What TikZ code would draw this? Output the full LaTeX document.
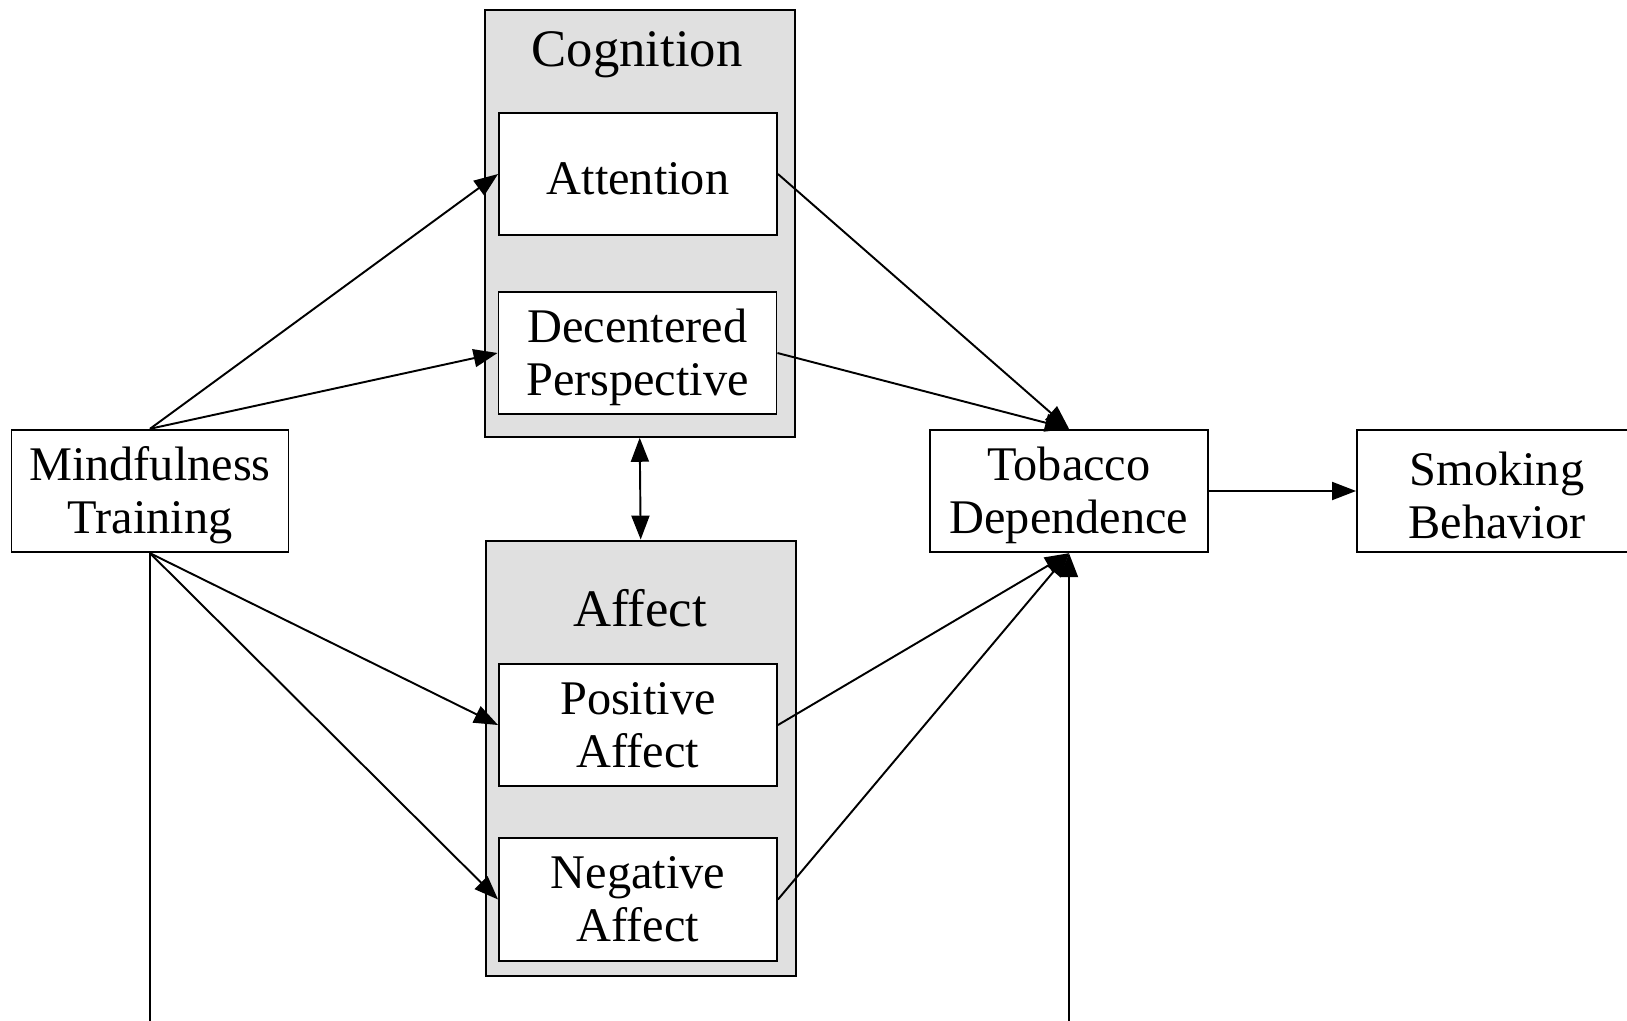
\documentclass[tikz,border=0pt]{standalone}
\usepackage{fontspec}
\setmainfont{Liberation Serif}
\usetikzlibrary{positioning, arrows.meta}
\newcommand{\lift}{\rule{0pt}{24pt}}

\begin{document}
\begin{tikzpicture}[
  x=0.02cm, y=-0.02cm,
  font=\fontsize{27.5}{30}\selectfont,
  var/.style={draw, line width=1.1pt, fill=white, align=center,
              minimum width=5.56cm, minimum height=2.45cm, inner sep=0pt},
  cluster/.style={draw, line width=1.1pt, fill=black!12,
                  minimum width=6.2cm, inner sep=0pt},
  title/.style={font=\fontsize{30}{32}\selectfont},
  arr/.style={-{Triangle[length=0.48cm, width=0.36cm]}, line width=1.1pt},
  darr/.style={{Triangle[length=0.48cm, width=0.36cm]}-{Triangle[length=0.48cm, width=0.36cm]},
               line width=1.1pt}
]
\path[use as bounding box, clip] (0,0) rectangle (1627,1021);
% the two groups
\node[cluster, minimum height=8.53cm] (cog) at (639.7,223.6) {};
\node[title] (cogtitle) at (637,55) {Cognition};
\node[cluster, minimum height=8.72cm] (aff) at (640.7,758.5) {};
\node[title] (afftitle) at (640,608) {Affect};
% variables
\node[var] (att) at (638,174) {\lift Attention};
\node[var] (dec) at (637.5,353) {\lift Decentered\\Perspective};
\node[var] (pos) at (638,725) {Positive\\Affect};
\node[var] (neg) at (638,899.5) {Negative\\Affect};
\node[var, minimum width=5.54cm] (mind) at (150,491) {\lift Mindfulness\\Training};
\node[var] (tob) at (1069,491) {\lift Tobacco\\Dependence};
\node[var, minimum width=5.6cm] (smk) at (1497,491) {\lift Smoking\\Behavior};
\draw[arr] (mind.north) -- (att.west);
\draw[arr] (mind.north) -- (dec.west);
\draw[arr] (mind.south) -- (pos.west);
\draw[arr] (mind.south) -- (neg.west);
\draw[arr] (att.east) -- (tob.north);
\draw[arr] (dec.east) -- (tob.north);
\draw[arr] (pos.east) -- (tob.south);
\draw[arr] (neg.east) -- (tob.south);
\draw[arr] (tob) -- (smk);
\draw[darr] (cog.south) -- (aff.north);
\draw[arr] (mind.south) -- ++(0,600) -| (tob.south);
\end{tikzpicture}
\end{document}
